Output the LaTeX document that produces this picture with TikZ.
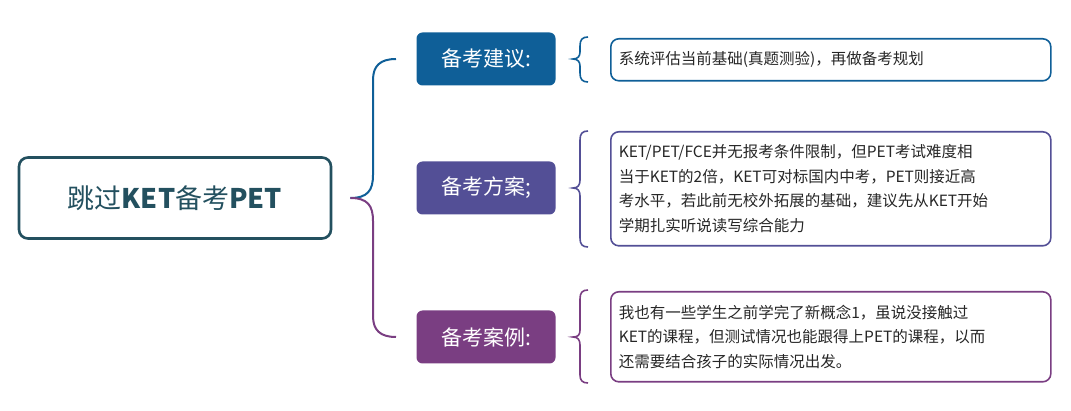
\documentclass[tikz,border=0pt]{standalone}
\usepackage{fontspec}
\usetikzlibrary{calc}
\setmainfont{Noto Sans CJK SC}
\definecolor{cRoot}{HTML}{23505F}
\definecolor{cA}{HTML}{0F5F98}
\definecolor{cB}{HTML}{534F96}
\definecolor{cC}{HTML}{7A3E82}
\begin{document}
\begin{tikzpicture}[x=1pt,y=-1pt,
  branch/.style={rounded corners=6pt,minimum width=139pt,minimum height=53pt,text=white,font=\fontsize{21}{24}\selectfont,inner sep=0pt},
  leaf/.style={draw,line width=1.6pt,rounded corners=8pt,text=black!85,font=\fontsize{15.5}{24.5}\selectfont,align=left,text width=424pt,anchor=north west,inner xsep=8pt,inner ysep=0pt},
  conn/.style={line width=2pt},
  brc/.style={line width=1.6pt}]
\useasboundingbox (0,0) rectangle (1071,411);
\node[draw=cRoot,line width=2.6pt,rounded corners=9pt,minimum width=312pt,minimum height=81pt,font=\fontsize{27}{30}\selectfont,text=cRoot] (root) at (175,198) {跳过\textbf{KET}备考\textbf{PET}};
\node[branch,fill=cA] (b1) at (486,59) {备考建议:};
\node[branch,fill=cB] (b2) at (486,188) {备考方案;};
\node[branch,fill=cC] (b3) at (486,337) {备考案例:};
\node[leaf,draw=cA,minimum height=42pt] (l1) at (610,38) {系统评估当前基础(真题测验)，再做备考规划};
\node[leaf,draw=cB,minimum height=114pt] (l2) at (610,131) {KET/PET/FCE并无报考条件限制，但PET考试难度相\\当于KET的2倍，KET可对标国内中考，PET则接近高\\考水平，若此前无校外拓展的基础，建议先从KET开始\\学期扎实听说读写综合能力};
\node[leaf,draw=cC,minimum height=90pt] (l3) at (610,291) {我也有一些学生之前学完了新概念1，虽说没接触过\\KET的课程，但测试情况也能跟得上PET的课程，以而\\还需要结合孩子的实际情况出发。};
\coordinate (s) at ($(root.east)+(18,0)$);
\draw[conn,cA] (s) .. controls (368,198) and (373,190) .. (373,175) -- (373,80) .. controls (373,66) and (380,59) .. (396,59);
\draw[conn,cC] (s) .. controls (368,198) and (373,206) .. (373,221) -- (373,316) .. controls (373,330) and (380,337) .. (396,337);
% braces
\draw[brc,cA] (588,37) .. controls (582,37) and (580,40) .. (580,46) -- (580,52) .. controls (580,56) and (578,59) .. (573,59) .. controls (578,59) and (580,62) .. (580,66) -- (580,73) .. controls (580,79) and (582,82) .. (588,82);
\draw[brc,cB] (588,131) .. controls (582,131) and (580,134) .. (580,140) -- (580,180) .. controls (580,185) and (578,188) .. (573,188) .. controls (578,188) and (580,191) .. (580,196) -- (580,238) .. controls (580,244) and (582,247) .. (588,247);
\draw[brc,cC] (588,290) .. controls (582,290) and (580,293) .. (580,299) -- (580,330) .. controls (580,335) and (578,337) .. (573,337) .. controls (578,337) and (580,340) .. (580,345) -- (580,375) .. controls (580,380) and (582,383) .. (588,383);
\end{tikzpicture}
\end{document}
